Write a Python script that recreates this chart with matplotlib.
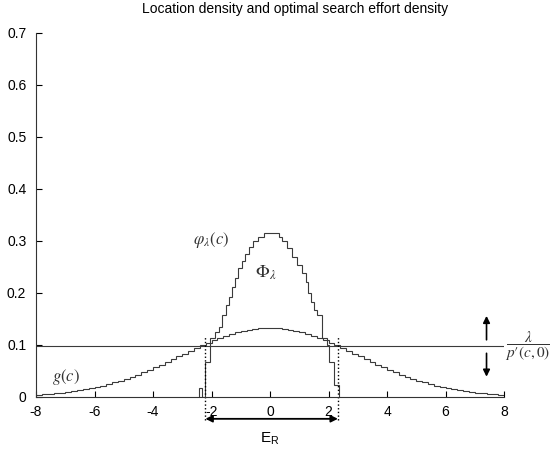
import numpy as np
import matplotlib
matplotlib.use("Agg")
import matplotlib.pyplot as plt

plt.rcParams['font.family'] = ['Liberation Sans', 'DejaVu Sans']
plt.rcParams['mathtext.fontset'] = 'stix'
plt.rcParams['axes.unicode_minus'] = False

# location density g(c), step width 0.2 on [-8, 8]
g_edges = np.arange(-8, 8.0001, 0.2)
g_half = [0.0041, 0.0049, 0.0058, 0.0069, 0.0081, 0.0094, 0.0110, 0.0127,
          0.0147, 0.0168, 0.0192, 0.0219, 0.0247, 0.0279, 0.0313, 0.0350,
          0.0389, 0.0431, 0.0475, 0.0522, 0.0571, 0.0621, 0.0673, 0.0726,
          0.0779, 0.0833, 0.0887, 0.0940, 0.0991, 0.1041, 0.1088, 0.1133,
          0.1174, 0.1211, 0.1244, 0.1271, 0.1294, 0.1312, 0.1323, 0.1329]
g_vals = g_half + g_half[::-1]

# optimal search effort density phi_lambda(c)
phi_edges = [-2.42, -2.33, -2.21, -2.04, -1.87, -1.76, -1.64, -1.52, -1.42,
             -1.30, -1.19, -1.08, -0.96, -0.85, -0.73, -0.58, -0.41, -0.22,
             0.31, 0.42, 0.57, 0.76, 0.93, 1.08, 1.22, 1.30, 1.40, 1.50,
             1.60, 1.76, 1.94, 2.02, 2.18, 2.34]
phi_vals = [0.017, 0.0, 0.068, 0.113, 0.125, 0.135, 0.158, 0.177, 0.193,
            0.212, 0.229, 0.248, 0.262, 0.275, 0.288, 0.300, 0.308,
            0.315,
            0.308, 0.300, 0.286, 0.270, 0.254, 0.238, 0.222, 0.200, 0.183,
            0.168, 0.158, 0.113, 0.100, 0.068, 0.023]

level = 0.098          # lambda / p'(c,0)
er_left, er_right = -2.21, 2.32

fig = plt.figure(figsize=(5.5, 4.55), dpi=100)
ax = fig.add_axes([0.0655, 0.1275, 0.851, 0.80])

lc = '#3a3a3a'
ax.stairs(g_vals, g_edges, baseline=None, color=lc, lw=0.8)
ax.stairs(phi_vals, phi_edges, baseline=0, color=lc, lw=0.8)
ax.plot([-8, 8], [level, level], color=lc, lw=0.8)

for xv in (er_left, er_right):
    ax.plot([xv, xv], [-0.044, 0.116], color='black', ls=':', lw=1.0,
            clip_on=False)

ax.annotate('', xy=(er_right, -0.042), xytext=(er_left, -0.042),
            arrowprops=dict(arrowstyle='<|-|>', color='black', lw=1.3,
                            mutation_scale=10, shrinkA=0, shrinkB=0),
            annotation_clip=False)
ax.text(0, -0.081, r'E$_\mathregular{R}$', ha='center', va='center',
        fontsize=11)

ax.annotate('', xy=(7.4, 0.156), xytext=(7.4, 0.11),
            arrowprops=dict(arrowstyle='-|>', color='black', lw=1.2,
                            mutation_scale=10, shrinkA=0, shrinkB=0))
ax.annotate('', xy=(7.4, 0.039), xytext=(7.4, 0.084),
            arrowprops=dict(arrowstyle='-|>', color='black', lw=1.2,
                            mutation_scale=10, shrinkA=0, shrinkB=0))

ax.text(8.82, level, r"$\dfrac{\lambda}{p′(c,0)}$", ha='center',
        va='center', fontsize=11, color='#333333', clip_on=False)
ax.text(-6.99, 0.039, r'$g(c)$', ha='center', va='center', fontsize=12,
        color='#333333')
ax.text(-2.02, 0.302, r'$\varphi_\lambda(c)$', ha='center', va='center',
        fontsize=12, color='#333333')
ax.text(-0.14, 0.238, r'$\Phi_\lambda$', ha='center', va='center',
        fontsize=13, color='#333333')

ax.set_xlim(-8, 8)
ax.set_ylim(0, 0.7)
ax.set_xticks(np.arange(-8, 9, 2))
ax.set_yticks(np.arange(0, 0.71, 0.1))
ax.set_yticklabels(['0', '0.1', '0.2', '0.3', '0.4', '0.5', '0.6', '0.7'])
ax.tick_params(direction='in', length=4, width=0.8, labelsize=10)
ax.tick_params(axis='y', pad=7)
ax.tick_params(axis='x', pad=6)
ax.spines['top'].set_visible(False)
ax.spines['right'].set_visible(False)
for s in ('left', 'bottom'):
    ax.spines[s].set_color('#333333')
    ax.spines[s].set_linewidth(0.8)

fig.text(295 / 550, 1 - 9 / 455, 'Location density and optimal search effort density',
         ha='center', va='center', fontsize=10)

fig.savefig('out.png', dpi=100)
